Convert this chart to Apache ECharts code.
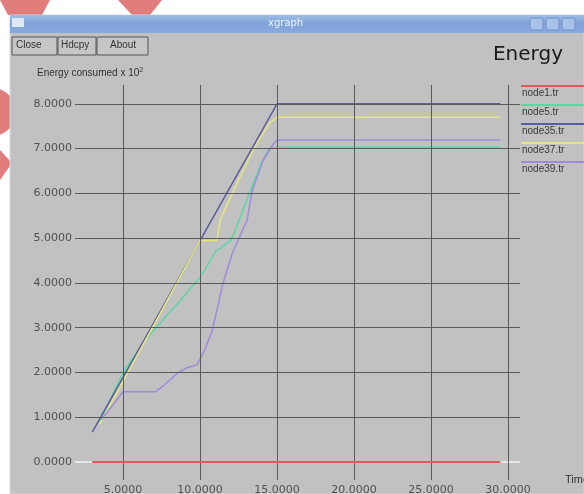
<!DOCTYPE html>
<html>
<head>
<meta charset="utf-8">
<script src="https://cdn.jsdelivr.net/npm/echarts@6.0.0/dist/echarts.min.js"></script>
<style>
  html, body { margin: 0; padding: 0; background: #fff; }
  #chart { width: 584px; height: 494px; }
</style>
</head>
<body>
<div id="chart"></div>
<script>
// tick labels
const xTicks = [5, 10, 15, 20, 25, 30];
const yTicks = [0, 1, 2, 3, 4, 5, 6, 7, 8];

// series, [time, energy]
const seriesNames = ['node1.tr', 'node5.tr', 'node35.tr', 'node37.tr', 'node39.tr'];
const seriesColors = ['#e05858', '#5ed6a4', '#5c5c9e', '#e6e67c', '#a08ada'];

const node1 = [[3.0, 0], [29.5, 0]];
const node5 = [[3.5, 0.9], [5, 2.0], [6.5, 2.75], [8.7, 3.6], [10.1, 4.17], [11, 4.7],
  [12, 4.95], [12.3, 5.18], [13.2, 6.0], [14, 6.7], [14.5, 7.0], [15, 7.03], [29.5, 7.03]];
const node35 = [[3.0, 0.67], [15, 8.0], [29.5, 8.0]];
const node37 = [[3.5, 0.85], [5, 1.8], [10, 4.95], [11.1, 4.95], [11.3, 5.4],
  [12.5, 6.3], [13.5, 7.0], [14.5, 7.57], [15, 7.7], [29.5, 7.7]];
const node39 = [[3.6, 0.95], [5, 1.57], [7.1, 1.57], [7.6, 1.7], [8.1, 1.85], [8.5, 1.98],
  [9.1, 2.1], [9.8, 2.17], [10.3, 2.5], [10.8, 2.95], [11.5, 4.0], [12.1, 4.67],
  [13.05, 5.4], [13.4, 6.07], [14.1, 6.74], [14.7, 7.07], [15, 7.19], [29.5, 7.19]];
const seriesData = [node1, node5, node35, node37, node39];

const chart = echarts.init(document.getElementById('chart'));

const lines = seriesData.map((d, i) => ({
  name: seriesNames[i],
  type: 'line',
  data: d,
  showSymbol: false,
  silent: true,
  z: i === 0 ? 5 : 3,
  lineStyle: { color: seriesColors[i], width: i === 0 ? 2 : 1.5 },
}));

const gridLines = {
  type: 'line',
  data: [],
  z: 1,
  markLine: {
    silent: true,
    symbol: 'none',
    label: { show: false },
    data: yTicks.map(v => ({ yAxis: v, lineStyle: { color: v === 0 ? '#f4f4f4' : '#5a5a5a', width: v === 0 ? 1.5 : 1, type: 'solid' } }))
      .concat(xTicks.map(v => ({ xAxis: v, lineStyle: { color: '#5a5a5a', width: 1, type: 'solid' } }))),
  },
};

// legend drawn xgraph style: coloured line above each name
const legendItems = [];
seriesNames.forEach((n, i) => {
  legendItems.push({
    type: 'line', shape: { x1: 521, y1: 86 + i * 19, x2: 584, y2: 86 + i * 19 },
    style: { stroke: seriesColors[i], lineWidth: 2 }
  });
  legendItems.push({
    type: 'text', left: 522, top: 88 + i * 19,
    style: { text: n, fill: '#3a3a3a', font: '10px "Liberation Sans"' }
  });
});

const option = {
  backgroundColor: '#ffffff',
  animation: false,
  textStyle: { fontFamily: 'DejaVu Sans' },
  title: [
    { text: 'Energy', right: 16, top: 40, textStyle: { fontFamily: 'DejaVu Sans', fontSize: 20, fontWeight: 'normal', color: '#1a1a1a' } },
    {
      text: 'Energy consumed x 10{sup|2}', left: 32, top: 62,
      textStyle: {
        fontFamily: 'Liberation Sans', fontSize: 10, fontWeight: 'normal', color: '#333',
        rich: { sup: { fontSize: 7, verticalAlign: 'top', padding: [0, 0, 6, 0], color: '#333' } }
      }
    }
  ],
  grid: { left: 75, right: 64, top: 85, bottom: 14, outerBoundsMode: 'none', containLabel: false },
  xAxis: {
    type: 'value', min: 1.88, max: 30.78,
    name: 'Time', nameLocation: 'end', nameGap: 45,
    nameTextStyle: { fontFamily: 'Liberation Sans', fontSize: 11, color: '#333', verticalAlign: 'middle' },
    axisLine: { show: false, onZero: false }, axisTick: { show: false }, splitLine: { show: false },
    axisLabel: {
      customValues: xTicks, margin: 5, fontSize: 11, color: '#505050',
      fontFamily: 'DejaVu Sans', formatter: v => v.toFixed(4)
    }
  },
  yAxis: {
    type: 'value', min: -0.40, max: 8.42,
    axisLine: { show: false, onZero: false }, axisTick: { show: false }, splitLine: { show: false },
    axisLabel: {
      customValues: yTicks, margin: 3, fontSize: 11, color: '#505050',
      fontFamily: 'DejaVu Sans', formatter: v => v.toFixed(4)
    }
  },
  graphic: {
    elements: [
      // slide decorations behind the window
      { type: 'polygon', z: -20, shape: { points: [[0, 0], [50, 0], [42, 15], [8, 15]] }, style: { fill: '#e07c7c' } },
      { type: 'polygon', z: -20, shape: { points: [[118, 0], [162, 0], [150, 15], [132, 15]] }, style: { fill: '#e07c7c' } },
      { type: 'circle', z: -20, shape: { cx: -8, cy: 112, r: 24 }, style: { fill: '#e07c7c' } },
      { type: 'polygon', z: -20, shape: { points: [[0, 150], [12, 163], [0, 180]] }, style: { fill: '#e07c7c' } },
      // window body
      { type: 'rect', z: -10, shape: { x: 10, y: 15, width: 574, height: 479 }, style: { fill: '#c1c1c1', stroke: '#d8d8d8', lineWidth: 1 } },
      // title bar
      {
        type: 'rect', z: -9, shape: { x: 10, y: 15, width: 574, height: 18 },
        style: { fill: new echarts.graphic.LinearGradient(0, 0, 0, 1, [{ offset: 0, color: '#9fbde6' }, { offset: 0.5, color: '#7ea2d8' }, { offset: 1, color: '#8aaade' }]) }
      },
      { type: 'rect', z: -9, shape: { x: 12, y: 18, width: 12, height: 9 }, style: { fill: '#dfe8f5' } },
      { type: 'text', z: -8, left: 268, top: 18, style: { text: 'xgraph', fill: '#f0f4fb', font: '10px "DejaVu Sans"' } },
      { type: 'rect', z: -8, shape: { x: 530, y: 18, width: 13, height: 12, r: 2 }, style: { fill: '#a9c1e6', stroke: '#6f92c8' } },
      { type: 'rect', z: -8, shape: { x: 546, y: 18, width: 13, height: 12, r: 2 }, style: { fill: '#a9c1e6', stroke: '#6f92c8' } },
      { type: 'rect', z: -8, shape: { x: 562, y: 18, width: 13, height: 12, r: 2 }, style: { fill: '#a9c1e6', stroke: '#6f92c8' } },
      // buttons
      { type: 'rect', z: -8, shape: { x: 12, y: 37, width: 45, height: 18 }, style: { fill: '#c6c6c6', stroke: '#555', lineWidth: 1 } },
      { type: 'text', z: -7, left: 16, top: 40, style: { text: 'Close', fill: '#333', font: '10px "Liberation Sans"' } },
      { type: 'rect', z: -8, shape: { x: 58, y: 37, width: 38, height: 18 }, style: { fill: '#c6c6c6', stroke: '#555', lineWidth: 1 } },
      { type: 'text', z: -7, left: 61, top: 40, style: { text: 'Hdcpy', fill: '#333', font: '10px "Liberation Sans"' } },
      { type: 'rect', z: -8, shape: { x: 97, y: 37, width: 51, height: 18 }, style: { fill: '#c6c6c6', stroke: '#555', lineWidth: 1 } },
      { type: 'text', z: -7, left: 110, top: 40, style: { text: 'About', fill: '#333', font: '10px "Liberation Sans"' } },
    ].concat(legendItems)
  },
  series: [gridLines].concat(lines),
};

chart.setOption(option);
</script>
</body>
</html>
